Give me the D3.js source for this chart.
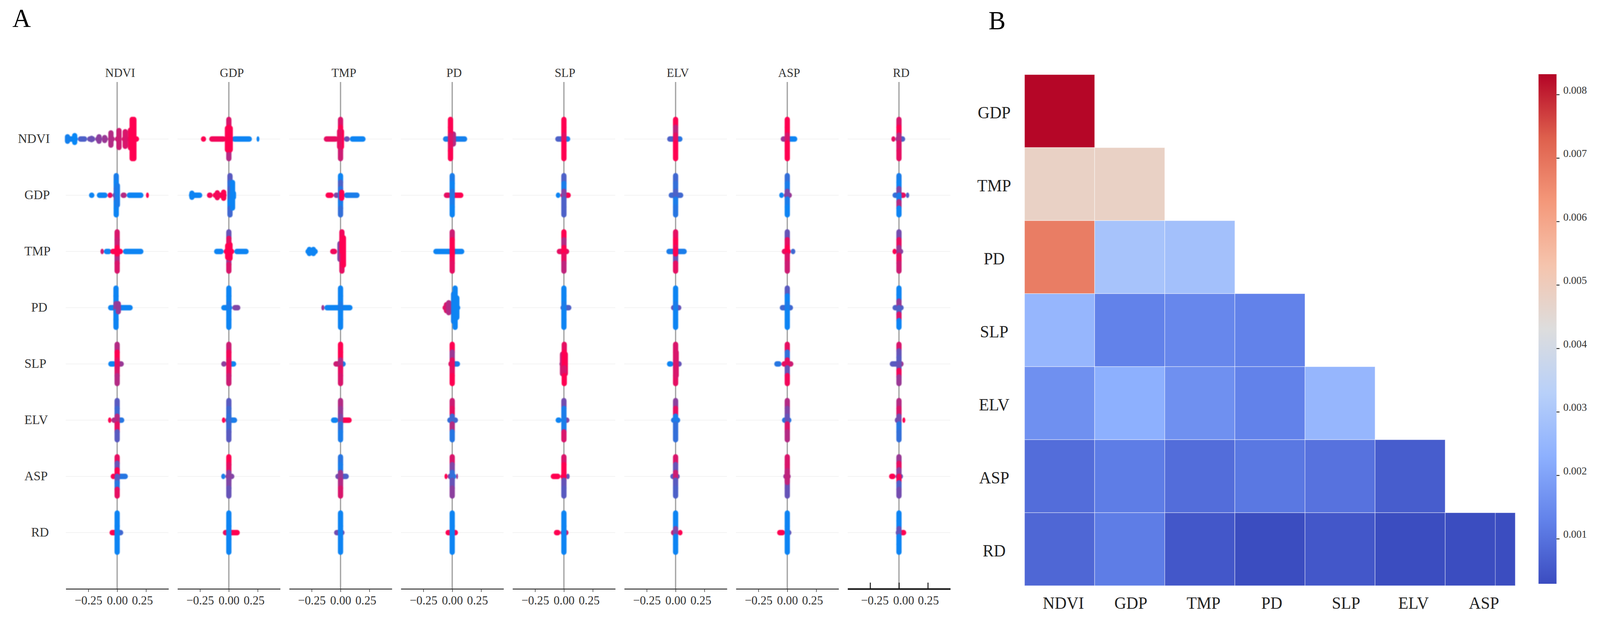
<!DOCTYPE html>
<html>
<head>
<meta charset="utf-8">
<title>SHAP interaction and heatmap</title>
<script src="https://cdn.jsdelivr.net/npm/d3@7"></script>
<style>
  html, body { margin: 0; background: #fff; overflow: hidden; }
  svg { display: block; width: 100vw; height: 100vh; }
  svg text { font-family: "Liberation Serif", serif; }
  .bee { filter: blur(0.9px); }
</style>
</head>
<body>
<div id="chart"></div>
<script>
// panel A: features, shared by rows and columns
const features = ['NDVI', 'GDP', 'TMP', 'PD', 'SLP', 'ELV', 'ASP', 'RD'];
const shapTicks = [-0.25, 0, 0.25];

// each cell: runs = [from, to, colour 0-1], bars = [shap, span 0-1, colours top to bottom]
const rowNDVI = [
  { runs: [[-0.44, -0.34, 0.05], [-0.34, -0.26, 0.3], [-0.26, -0.19, 0.42], [-0.19, -0.13, 0.52], [-0.13, -0.08, 0.6], [-0.08, -0.02, 0.7], [-0.02, 0.04, 0.8], [0.04, 0.1, 0.88], [0.1, 0.19, 1]],
    bars: [[-0.43, 0.11, [0.08]], [-0.368, 0.17, [0.03]], [-0.222, 0.03, [0.42]], [-0.157, 0.11, [0.55]], [-0.108, 0.07, [0.6]], [-0.054, 0.31, [0.7]], [0.016, 0.43, [0.8]], [0.07, 0.37, [0.85]], [0.115, 0.45, [0.95]], [0.13, 1, [1]], [0.145, 1, [1]]] },
  { runs: [[-0.242, -0.197, 1], [-0.17, -0.025, 0.95], [0.027, 0.2, 0.05], [0.24, 0.265, 0.05]],
    bars: [[0, 1, [0.85, 1, 1, 0.9, 0.7]], [-0.012, 0.55, [1]], [0.012, 0.55, [1]]] },
  { runs: [[-0.145, -0.02, 0.9], [0.03, 0.08, 0.4], [0.08, 0.217, 0.05]],
    bars: [[0, 1, [0.85, 1, 0.9, 0.9, 0.8]], [0.008, 0.4, [1]], [-0.008, 0.4, [0.9]]] },
  { runs: [[-0.08, 0, 0.1], [0, 0.13, 0.08]],
    bars: [[0.01, 0.25, [0.7]], [-0.015, 1, [1, 1, 0.85, 0.9, 1]]] },
  { runs: [[-0.075, 0, 0.3], [0, 0.055, 0.1]],
    bars: [[0, 1, [1, 1, 0.9, 1, 1]]] },
  { runs: [[-0.073, 0, 0.3], [0, 0.06, 0.15]],
    bars: [[0, 1, [1, 0.75, 0.9, 1, 1]]] },
  { runs: [[-0.057, 0, 0.6], [0, 0.087, 0.05]],
    bars: [[0, 1, [1, 1, 0.85, 1, 1]]] },
  { runs: [[-0.066, -0.03, 0.9], [-0.03, 0, 0.6], [0, 0.054, 0.3]],
    bars: [[0, 1, [0.85, 1, 0.7, 0.85, 0.9]]] }
];
const rowGDP = [
  { runs: [[-0.244, -0.197, 0.05], [-0.176, -0.083, 0.05], [-0.083, -0.04, 0.9], [-0.04, 0, 0.4], [0.03, 0.083, 0.7], [0.083, 0.228, 0.05], [0.25, 0.275, 1]],
    bars: [[-0.008, 1, [0.1, 0.05, 0.2, 0.4, 0.05, 0.05]], [0.002, 0.5, [0.1]]] },
  { runs: [[-0.346, -0.23, 0.05], [-0.19, -0.14, 0.95], [-0.14, -0.02, 1]],
    bars: [[-0.32, 0.1, [0.05]], [-0.1, 0.12, [0.95]], [-0.045, 0.15, [1]], [0.01, 1, [0.35, 0.2, 0.3, 0.2, 0.05, 0.25]], [0.032, 0.65, [0.05]], [0.04, 0.1, [0.05]]] },
  { runs: [[-0.13, -0.06, 1], [-0.06, -0.01, 0.5], [0.03, 0.165, 0.1]],
    bars: [[0, 1, [0.05, 0.3, 0.15, 0.1, 0.1, 0.2]], [0.01, 0.15, [1]]] },
  { runs: [[-0.073, -0.01, 0.9], [0, 0.097, 1]],
    bars: [[0, 1, [0.1, 0.05, 0.15, 0.1, 0.05]]] },
  { runs: [[-0.07, -0.03, 0.05], [-0.03, 0.06, 1]],
    bars: [[0, 1, [0.3, 0.1, 0.5, 0.3, 0.3]]] },
  { runs: [[-0.06, 0.067, 0.25]],
    bars: [[0, 1, [0.25, 0.2, 0.3, 0.1, 0.15]]] },
  { runs: [[-0.07, -0.03, 0.05], [-0.03, 0.04, 0.6]],
    bars: [[0, 1, [0.2, 0.1, 0.5, 0.1, 0.05]]] },
  { runs: [[-0.056, 0, 0.2], [0, 0.06, 0.9], [0.06, 0.089, 0.3]],
    bars: [[0, 1, [0.1, 0.05, 0.5, 0.1, 0.7, 0.05]]] }
];
const rowTMP = [
  { runs: [[-0.145, -0.115, 0.8], [-0.115, -0.05, 0.05], [-0.06, 0.05, 1], [0.05, 0.228, 0.05]],
    bars: [[0, 1, [0.85, 0.8, 1, 0.7, 0.85]], [0, 0.12, [1]]] },
  { runs: [[-0.128, -0.045, 0.05], [-0.045, 0.047, 1], [0.047, 0.172, 0.05]],
    bars: [[0, 1, [0.4, 0.9, 0.4, 1, 0.6, 0.85]], [0, 0.12, [1]], [0.01, 0.35, [1]], [-0.01, 0.3, [1]]] },
  { runs: [[-0.304, -0.197, 0.05], [-0.09, -0.03, 0.95]],
    bars: [[-0.27, 0.1, [0.05]], [-0.235, 0.1, [0.05]], [-0.005, 0.4, [0.5]], [0.012, 1, [0.95, 1, 1, 0.85, 0.9]], [0.025, 0.7, [1]]] },
  { runs: [[-0.164, 0.105, 0.05]],
    bars: [[0, 1, [0.8, 1, 1, 0.95, 0.9]], [0, 0.15, [1]]] },
  { runs: [[-0.062, 0.046, 0.9]],
    bars: [[0, 1, [1, 0.7, 1, 0.9, 0.75]]] },
  { runs: [[-0.08, 0.097, 0.1]],
    bars: [[0, 1, [0.9, 1, 0.85, 0.4, 0.9]], [0, 0.12, [1]]] },
  { runs: [[-0.048, 0, 0.9], [0, 0.03, 0.95], [0.03, 0.07, 0.25]],
    bars: [[0, 1, [0.4, 0.9, 1, 0.85, 0.8]]] },
  { runs: [[-0.056, -0.02, 1], [-0.02, 0.037, 0.5]],
    bars: [[0, 1, [0.45, 0.9, 0.6, 0.9, 0.8]]] }
];
const rowPD = [
  { runs: [[-0.079, 0, 0.05], [0, 0.135, 0.05]],
    bars: [[-0.01, 1, [0.05, 0.05, 0.55, 0.05, 0.05]], [0.01, 0.2, [0.6]]] },
  { runs: [[-0.066, 0.03, 0.05], [0.03, 0.1, 0.5]],
    bars: [[0, 1, [0.05, 0.05, 0.1, 0.05, 0.05]]] },
  { runs: [[-0.166, -0.14, 0.6], [-0.14, 0.104, 0.05]],
    bars: [[0, 1, [0.05, 0.05, 0.1, 0.05, 0.05]]] },
  { runs: [[-0.084, -0.03, 0.9], [-0.03, 0.02, 0.7], [0.02, 0.07, 0.05]],
    bars: [[-0.05, 0.15, [0.85]], [-0.03, 0.25, [0.7]], [0.012, 0.7, [0.1]], [0.025, 1, [0.05]], [0.04, 0.5, [0.05]]] },
  { runs: [[-0.03, 0.065, 0.3]],
    bars: [[0, 1, [0.05, 0.05, 0.1, 0.05, 0.05]]] },
  { runs: [[-0.04, 0.05, 0.4]],
    bars: [[0, 1, [0.05, 0.05, 0.1, 0.05, 0.05]]] },
  { runs: [[-0.065, 0.05, 0.25]],
    bars: [[0, 1, [0.35, 0.05, 0.1, 0.05, 0.05]]] },
  { runs: [[-0.056, 0.041, 0.3]],
    bars: [[0, 1, [0.05, 0.05, 0.6, 0.3, 0.85, 0.05]]] }
];
const rowSLP = [
  { runs: [[-0.077, -0.01, 0.05], [0, 0.058, 0.6]],
    bars: [[0, 1, [0.7, 1, 0.9, 0.85, 0.7]]] },
  { runs: [[-0.066, -0.02, 0.55], [-0.02, 0.064, 0.05]],
    bars: [[0, 1, [0.8, 0.95, 0.9, 0.9, 0.8]]] },
  { runs: [[-0.062, 0, 0.8], [0, 0.045, 0.1]],
    bars: [[0, 1, [1, 1, 0.7, 0.9, 0.85]]] },
  { runs: [[-0.033, 0, 0.85], [0, 0.068, 0.1]],
    bars: [[0, 1, [1, 0.6, 0.9, 0.9, 1]]] },
  { runs: [[-0.039, 0.033, 0.5]],
    bars: [[-0.012, 0.5, [0.8]], [0.012, 0.5, [0.95]], [0.003, 1, [0.9, 1, 1, 0.85, 1]]] },
  { runs: [[-0.075, -0.02, 0.05], [-0.02, 0.053, 0.4]],
    bars: [[0, 1, [0.85, 0.9, 0.8, 0.85, 0.9]], [0.005, 0.6, [0.85]]] },
  { runs: [[-0.113, -0.05, 0.15], [-0.05, 0, 0.9], [0, 0.053, 0.8]],
    bars: [[0, 1, [0.9, 0.2, 0.9, 0.4, 0.95]]] },
  { runs: [[-0.08, 0, 0.35], [0, 0.04, 0.6]],
    bars: [[0, 1, [0.85, 0.4, 0.35, 0.4, 0.95, 0.6]]] }
];
const rowELV = [
  { runs: [[-0.079, -0.05, 1], [-0.05, 0, 0.7], [0, 0.062, 0.15]],
    bars: [[0, 1, [0.35, 0.25, 0.7, 0.9, 0.35]]] },
  { runs: [[-0.06, -0.03, 1], [-0.03, 0, 0.5], [0, 0.072, 0.1]],
    bars: [[0, 1, [0.35, 0.25, 0.2, 0.25, 0.35]]] },
  { runs: [[-0.083, -0.02, 0.05], [-0.02, 0, 0.5], [0, 0.097, 1]],
    bars: [[0, 1, [0.7, 0.6, 0.5, 0.2, 0.1]]] },
  { runs: [[-0.043, 0, 0.2], [0, 0.05, 0.25]],
    bars: [[0, 1, [0.8, 0.9, 0.25, 0.7, 0.15]]] },
  { runs: [[-0.072, -0.02, 0.05], [-0.02, 0.048, 0.5]],
    bars: [[0, 1, [0.45, 0.1, 0.1, 0.1, 0.85]]] },
  { runs: [[-0.04, 0.04, 0.15]],
    bars: [[0, 1, [0.55, 0.9, 0.1, 0.2, 0.2]]] },
  { runs: [[-0.046, 0.036, 0.15]],
    bars: [[0, 1, [0.7, 0.5, 0.4, 0.85, 0.7]]] },
  { runs: [[-0.036, 0, 0.45], [0.03, 0.055, 1]],
    bars: [[0, 1, [0.7, 0.85, 0.45, 0.15, 0.2]]] }
];
const rowASP = [
  { runs: [[-0.056, -0.01, 1], [0, 0.093, 0.15]],
    bars: [[0, 1, [0.9, 0.4, 1, 0.35, 0.15, 0.9]]] },
  { runs: [[-0.066, -0.03, 0.1], [-0.03, 0.048, 0.5]],
    bars: [[0, 1, [1, 0.9, 0.55, 0.5, 0.4]]] },
  { runs: [[-0.045, 0, 0.45], [0, 0.072, 0.3]],
    bars: [[0, 1, [0.15, 0.1, 0.6, 0.7, 0.85]]] },
  { runs: [[-0.067, -0.04, 1], [-0.04, 0, 0.5], [0, 0.034, 0.1], [0.034, 0.05, 0.6]],
    bars: [[0, 1, [0.85, 0.5, 0.2, 0.4, 0.55]]] },
  { runs: [[-0.114, -0.03, 1], [-0.03, 0.02, 1], [0.02, 0.05, 0.4]],
    bars: [[0, 1, [0.85, 1, 1, 0.4, 0.35]]] },
  { runs: [[-0.046, 0.036, 0.35]],
    bars: [[0, 1, [0.85, 0.4, 0.8, 0.35, 0.3]]] },
  { runs: [[-0.035, 0.03, 0.6]],
    bars: [[0, 1, [0.85, 0.85, 0.75, 0.45, 0.4]], [0, 0.3, [0.75]]] },
  { runs: [[-0.086, -0.03, 1], [-0.03, 0.035, 0.4]],
    bars: [[0, 1, [0.6, 0.9, 0.55, 0.95, 0.3, 0.45]]] }
];
const rowRD = [
  { runs: [[-0.066, 0, 1], [0, 0.053, 0.25]],
    bars: [[0, 1, [0.05, 0.05, 0.05]]] },
  { runs: [[-0.052, 0, 0.9], [0, 0.095, 1]],
    bars: [[0, 1, [0.05, 0.05, 0.05]]] },
  { runs: [[-0.056, 0.035, 0.45]],
    bars: [[0, 1, [0.05, 0.05, 0.05]]] },
  { runs: [[-0.058, 0.05, 1]],
    bars: [[0, 1, [0.05, 0.05, 0.05]]] },
  { runs: [[-0.087, -0.03, 1], [-0.03, 0.04, 0.8]],
    bars: [[0, 1, [0.05, 0.05, 0.05]]] },
  { runs: [[-0.04, 0, 0.8], [0.02, 0.06, 1]],
    bars: [[0, 1, [0.05, 0.05, 0.5, 0.05, 0.05]]] },
  { runs: [[-0.088, -0.02, 1], [-0.02, 0.036, 0.4]],
    bars: [[0, 1, [0.05, 0.05, 0.05]]] },
  { runs: [[-0.028, 0.01, 0.4], [0.01, 0.063, 1]],
    bars: [[0, 1, [0.05, 0.05, 0.4, 0.05, 0.05]]] }
];
const beeRows = [rowNDVI, rowGDP, rowTMP, rowPD, rowSLP, rowELV, rowASP, rowRD];

// panel B: lower triangle, one list per row
const heatRows = ['GDP', 'TMP', 'PD', 'SLP', 'ELV', 'ASP', 'RD'];
const heatCols = ['NDVI', 'GDP', 'TMP', 'PD', 'SLP', 'ELV', 'ASP'];
const heatGDP = [0.0083];
const heatTMP = [0.0048, 0.0048];
const heatPD = [0.0068, 0.0029, 0.0028];
const heatSLP = [0.0025, 0.0013, 0.0014, 0.0013];
const heatELV = [0.0016, 0.0023, 0.0016, 0.0013, 0.0025];
const heatASP = [0.0009, 0.0012, 0.0009, 0.0011, 0.001, 0.0006];
const heatRD = [0.0008, 0.0012, 0.0005, 0.0003, 0.0005, 0.0003, 0.0003];
const heatValues = [heatGDP, heatTMP, heatPD, heatSLP, heatELV, heatASP, heatRD];
const colorbarTicks = [0.001, 0.002, 0.003, 0.004, 0.005, 0.006, 0.007, 0.008];
const coolwarm = ['#3b4cc0', '#6282ea', '#8db0fe', '#b8d0f9', '#dddddd', '#f5c4ad', '#f4987a', '#de604d', '#b40426'];

// the window can come out narrower than asked, so the drawing stretches to fill it
const svg = d3.select('#chart').append('svg')
  .attr('viewBox', '0 0 4268 1598')
  .attr('preserveAspectRatio', 'none');

const defs = svg.append('defs');

// label nudges seen in the figure
const colLabelDx = [8, 8, 9, 5, 3, 6, 5, 6];
const rowLabelX = [48, 65, 65, 83, 65, 65, 65, 83];
const tickLabelDx = [0, 0, -10];
const lastTickLabelDx = [12, 12, 1];
const heatXDx = [10, 3, 10, 5, 16, 9, 10];

svg.append('text').attr('x', 33).attr('y', 69).style('font-size', '68px').text('A');
svg.append('text').attr('x', 2637).attr('y', 75).style('font-size', '68px').text('B');

// ---------- panel A ----------
const colZero = d3.scalePoint().domain(features).range([312.5, 2398]);
const rowY = d3.scalePoint().domain(features).range([356, 1364]);
const shapX = d3.scaleLinear().domain([-0.445, 0.445]).range([-137, 137]);
const spanY = d3.scaleLinear().domain([-1, 1]).range([-50, 50]);
const dotColor = d3.interpolateRgb('#008bfb', '#ff0051');
const dot = 14;
const axisY = 1508;

features.forEach((col, j) => {
  const g = svg.append('g').attr('transform', `translate(${colZero(col)},0)`);
  const last = j === features.length - 1;

  g.selectAll('.grid')
    .data(features)
    .enter()
    .append('line')
    .classed('grid', true)
    .attr('x1', shapX.range()[0])
    .attr('x2', shapX.range()[1])
    .attr('y1', d => rowY(d))
    .attr('y2', d => rowY(d))
    .attr('stroke', '#f3f3f3')
    .attr('stroke-width', 2);

  g.append('line')
    .attr('y1', 210)
    .attr('y2', axisY)
    .attr('stroke', '#a6a6a6')
    .attr('stroke-width', 3.5);

  features.forEach((row, i) => {
    const cell = beeRows[i][j];
    const c = g.append('g')
      .classed('bee', true)
      .attr('transform', `translate(0,${rowY(row)})`);

    c.selectAll('.run')
      .data(cell.runs)
      .enter()
      .append('rect')
      .classed('run', true)
      .attr('x', d => shapX(d[0]))
      .attr('y', -dot / 2)
      .attr('width', d => shapX(d[1]) - shapX(d[0]))
      .attr('height', dot)
      .attr('rx', dot / 2)
      .attr('fill', d => dotColor(d[2]));

    cell.bars.forEach(b => {
      const n = b[2].length;
      const seg = d3.scaleLinear().domain([0, n]).range([-b[1], b[1]]);
      c.selectAll(null)
        .data(b[2])
        .enter()
        .append('rect')
        .attr('x', shapX(b[0]) - dot / 2)
        .attr('y', (d, k) => spanY(seg(k)) - dot / 2)
        .attr('width', dot)
        .attr('height', (d, k) => spanY(seg(k + 1)) - spanY(seg(k)) + dot)
        .attr('rx', dot / 2)
        .attr('fill', d => dotColor(d));
    });
  });

  const axis = d3.axisBottom(shapX)
    .tickValues(shapTicks)
    .tickSize(last ? -16 : 8)
    .tickSizeOuter(0)
    .tickFormat(d => d === 0 ? '0.00' : d3.format('.2f')(d).replace('-', '\u2212'));

  const ax = g.append('g')
    .attr('transform', `translate(0,${axisY})`)
    .call(axis);
  ax.select('.domain').attr('stroke', last ? '#111' : '#333').attr('stroke-width', last ? 4 : 2.5);
  ax.selectAll('.tick line').attr('stroke', last ? '#111' : '#333').attr('stroke-width', last ? 2.5 : 1.5);
  ax.selectAll('.tick text')
    .attr('y', 0)
    .attr('dy', 40)
    .attr('dx', (d, k) => (last ? lastTickLabelDx : tickLabelDx)[k])
    .style('font-family', '"Liberation Serif", serif')
    .style('font-size', '32px')
    .attr('fill', '#333');

  g.append('text')
    .attr('x', colLabelDx[j])
    .attr('y', 197)
    .attr('text-anchor', 'middle')
    .style('font-size', '32px')
    .attr('fill', '#333')
    .text(col);
});

svg.selectAll('.row-label')
  .data(features)
  .enter()
  .append('text')
  .classed('row-label', true)
  .attr('x', (d, i) => rowLabelX[i])
  .attr('y', d => rowY(d) + 10)
  .style('font-size', '34px')
  .attr('fill', '#333')
  .text(d => d);

// ---------- panel B ----------
const heatX = d3.scaleBand().domain(heatCols).range([2733, 4042]);
const heatY = d3.scaleBand().domain(heatRows).range([191, 1500]);
const heatDomain = [0.00029, 0.00832];
const heatColor = d3.scaleLinear()
  .domain(d3.range(coolwarm.length).map(i => heatDomain[0] + (heatDomain[1] - heatDomain[0]) * i / (coolwarm.length - 1)))
  .range(coolwarm);

heatRows.forEach((row, i) => {
  svg.selectAll(null)
    .data(heatValues[i])
    .enter()
    .append('rect')
    .attr('x', (d, k) => heatX(heatCols[k]))
    .attr('y', heatY(row))
    .attr('width', heatX.bandwidth())
    .attr('height', heatY.bandwidth())
    .attr('fill', d => heatColor(d))
    .attr('stroke', '#fff')
    .attr('stroke-opacity', 0.55)
    .attr('stroke-width', 1.5);
});

// stray divider inside the last cell of the figure
svg.append('line')
  .attr('x1', heatX('ASP') + heatX.bandwidth() * 0.715)
  .attr('x2', heatX('ASP') + heatX.bandwidth() * 0.715)
  .attr('y1', heatY('RD'))
  .attr('y2', heatY('RD') + heatY.bandwidth())
  .attr('stroke', '#fff')
  .attr('stroke-opacity', 0.55)
  .attr('stroke-width', 1.5);

svg.selectAll('.heat-x')
  .data(heatCols)
  .enter()
  .append('text')
  .classed('heat-x', true)
  .attr('x', (d, i) => heatX(d) + heatX.bandwidth() / 2 + heatXDx[i])
  .attr('y', 1559)
  .attr('text-anchor', 'middle')
  .style('font-size', '44px')
  .attr('fill', '#222')
  .text(d => d);

svg.selectAll('.heat-y')
  .data(heatRows)
  .enter()
  .append('text')
  .classed('heat-y', true)
  .attr('x', 2652)
  .attr('y', d => heatY(d) + heatY.bandwidth() / 2 + 19)
  .attr('text-anchor', 'middle')
  .style('font-size', '44px')
  .attr('fill', '#222')
  .text(d => d);

// colour bar
const barScale = d3.scaleLinear().domain(heatDomain).range([1495, 190]);
const grad = defs.append('linearGradient')
  .attr('id', 'coolwarm')
  .attr('x1', 0).attr('x2', 0).attr('y1', 1).attr('y2', 0);
grad.selectAll('stop')
  .data(coolwarm)
  .enter()
  .append('stop')
  .attr('offset', (d, i) => i / (coolwarm.length - 1))
  .attr('stop-color', d => d);

svg.append('rect')
  .attr('x', 4104)
  .attr('y', 190)
  .attr('width', 48)
  .attr('height', 1305)
  .attr('fill', 'url(#coolwarm)');

const barAxis = svg.append('g')
  .attr('transform', 'translate(4152,0)')
  .call(d3.axisRight(barScale).tickValues(colorbarTicks).tickSize(8).tickFormat(d3.format('.3f')));
barAxis.select('.domain').remove();
barAxis.selectAll('.tick line').attr('stroke', '#111').attr('stroke-width', 2);
barAxis.selectAll('.tick text')
  .attr('x', 18)
  .attr('dy', -3)
  .style('font-family', '"Liberation Serif", serif')
  .style('font-size', '28px')
  .attr('fill', '#333');
</script>
</body>
</html>
